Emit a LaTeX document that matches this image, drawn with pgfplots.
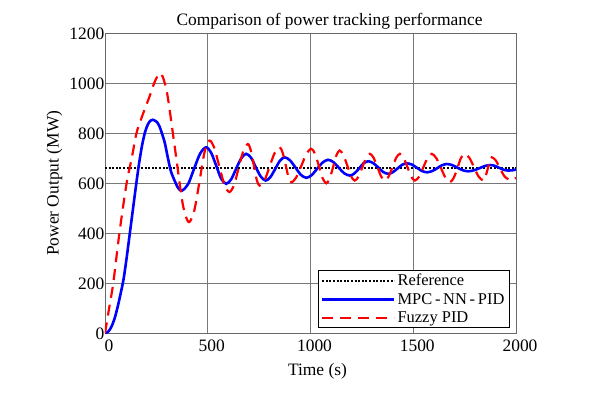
\documentclass[border=0pt]{standalone}
\usepackage{pgfplots}
\pgfplotsset{compat=1.18}
\usepackage{fontspec}
\setmainfont{Liberation Serif}
\definecolor{mblue}{RGB}{0,0,255}
\definecolor{mred}{RGB}{255,0,0}
\definecolor{frame}{RGB}{105,105,105}
\begin{document}
\begin{tikzpicture}
\begin{axis}[
  scale only axis, width=411bp, height=300bp,
  xmin=0, xmax=2000, ymin=0, ymax=1200,
  xtick={0,500,1000,1500,2000}, ytick={0,200,400,600,800,1000,1200},
  xticklabels={\textrm{0},\textrm{500},\textrm{1000},\textrm{1500},\textrm{2000}},
  yticklabels={\textrm{0},\textrm{200},\textrm{400},\textrm{600},\textrm{800},\textrm{1000},\textrm{1200}},
  grid=major, major grid style={draw=frame!90, line width=0.8bp},
  axis line style={draw=frame, line width=0.9bp},
  tick style={draw=none},
  font=\fontsize{17.5}{20}\selectfont,
  tick label style={font=\fontsize{17.5}{20}\selectfont},
  xticklabel style={xshift=4bp, yshift=-3bp},
  yticklabel style={inner xsep=0.5bp},
  title={Comparison of power tracking performance},
  title style={xshift=19bp, yshift=-5bp},
  xlabel={Time (s)},
  xlabel style={xshift=7bp, yshift=-5bp},
  ylabel={Power Output (MW)},
  ylabel style={yshift=3bp},
  legend style={at={(0.985,0.017)}, anchor=south east, draw=black, line width=0.8bp,
    font=\fontsize{16.5}{19}\selectfont, row sep=2bp, inner ysep=2bp, inner xsep=3bp},
  legend cell align=left,
  legend image code/.code={\draw[#1] (0bp,0bp) -- (72bp,0bp);},
]
\addplot[black, line width=2bp, dash pattern=on 2bp off 1.6bp] coordinates {(0,660) (2000,660)};
\addlegendentry{Reference}

\addplot[mblue, line width=2.6bp, smooth] coordinates {
(0,0) (15,6) (30,24) (45,55) (60,100) (75,155) (90,215) (105,300) (120,395)
(135,490) (150,585) (165,675) (180,750) (195,805) (210,838) (222,851) (232,854)
(248,848) (264,830) (289,768) (304,710) (320,650) (339,610) (357,580) (375,571)
(404,596) (433,657) (463,719) (492,744) (516,723) (541,671) (565,619) (590,598)
(614,616) (638,658) (663,700) (687,718) (711,702) (734,664) (758,627) (782,611)
(805,625) (828,657) (851,690) (874,704) (900,692) (927,663) (953,634) (980,622)
(1006,633) (1032,658) (1059,683) (1085,694) (1111,685) (1138,662) (1164,640) (1191,631)
(1213,639) (1236,659) (1258,680) (1281,688) (1305,681) (1330,663) (1354,645) (1378,638)
(1400,644) (1423,659) (1446,674) (1468,680) (1493,675) (1518,662) (1543,649) (1568,644)
(1592,649) (1616,660) (1639,672) (1663,677) (1689,673) (1716,662) (1742,652) (1768,648)
(1795,652) (1821,660) (1848,669) (1874,673) (1896,670) (1918,662) (1941,654) (1963,651)
(1982,652) (2000,655)
};
\addlegendentry{MPC\,-\,NN\,-\,PID}

\addplot[mred, line width=2.2bp, dash pattern=on 11bp off 7bp, smooth] coordinates {
(0,0) (20,100) (40,200) (70,400) (105,600) (130,700) (153,800) (175,855) (195,900)
(218,950) (239,1000) (255,1028) (268,1040) (282,1024) (304,952) (340,742) (375,533)
(393,468) (411,445) (435,493) (460,608) (484,723) (508,771) (532,741) (556,668)
(581,595) (605,565) (628,593) (650,661) (673,729) (695,757) (709,733) (724,674)
(738,615) (752,591) (777,613) (801,667) (826,722) (850,744) (864,723) (879,674)
(893,624) (907,604) (931,624) (956,671) (980,718) (1004,738) (1022,718) (1041,669)
(1059,620) (1077,600) (1093,619) (1110,665) (1126,712) (1142,731) (1160,713) (1179,671)
(1197,629) (1215,611) (1234,627) (1252,664) (1271,702) (1289,718) (1307,702) (1326,664)
(1344,627) (1362,611) (1380,627) (1399,664) (1417,702) (1435,718) (1453,702) (1472,664)
(1490,627) (1508,611) (1529,627) (1549,664) (1570,702) (1590,718) (1612,701) (1635,661)
(1657,622) (1679,605) (1697,622) (1715,661) (1732,701) (1750,718) (1773,702) (1796,664)
(1818,627) (1841,611) (1851,625) (1862,657) (1872,690) (1882,704) (1902,691) (1922,660)
(1943,629) (1963,616) (1982,614) (2000,622)
};
\addlegendentry{Fuzzy PID}
\end{axis}
\path (current axis.south west) ++(-105bp,-60.7bp) rectangle ++(591bp,394bp);
\end{tikzpicture}
\end{document}
